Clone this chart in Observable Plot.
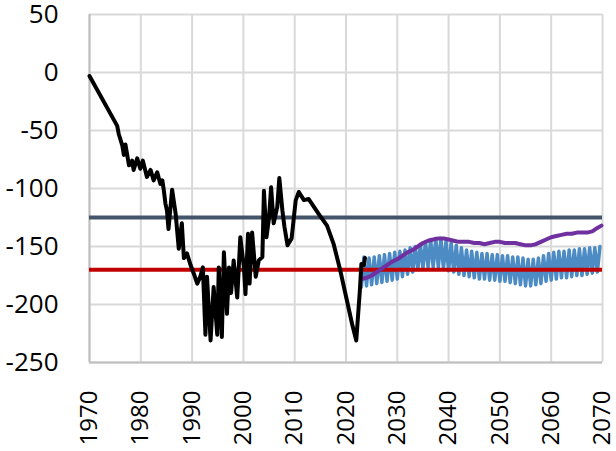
<!DOCTYPE html>
<html>
<head>
<meta charset="utf-8">
<script src="https://cdn.jsdelivr.net/npm/d3@7"></script>
<script src="https://cdn.jsdelivr.net/npm/@observablehq/plot@0.6"></script>
<style>
  body { margin: 0; background: #fff; }
  #chart svg { display: block; }
</style>
</head>
<body>
<div id="chart"></div>
<script>
// Historical series (black)
const histYears = [1970, 1975.4, 1975.7, 1976.4, 1976.7, 1977.0, 1977.7, 1978.3, 1978.6, 1979.3, 1979.9, 1980.4, 1981.2, 1981.9, 1982.5, 1983.2, 1983.8, 1984.2, 1984.5, 1984.8, 1985.1, 1985.4, 1986.1, 1986.8, 1987.4, 1988.0, 1988.4, 1989.0, 1989.7, 1990.3, 1991.0, 1991.6, 1992.1, 1992.6, 1992.9, 1993.6, 1994.2, 1994.9, 1995.2, 1995.8, 1996.2, 1996.8, 1997.2, 1997.6, 1998.1, 1998.8, 1999.4, 2000.1, 2000.4, 2000.9, 2001.2, 2001.7, 2002.4, 2003.0, 2003.7, 2004.0, 2004.5, 2005.0, 2005.4, 2005.9, 2006.6, 2007.0, 2007.6, 2008.0, 2008.6, 2009.4, 2010.2, 2010.8, 2011.8, 2012.7, 2014.7, 2016.3, 2017.6, 2018.9, 2020.2, 2021.2, 2022.0, 2022.7, 2023.0];
const histValues = [-3, -46, -53, -63, -71, -62, -80, -76, -84, -74, -83, -76, -90, -84, -93, -86, -96, -93, -102, -113, -119, -135, -101, -122, -152, -130, -160, -156, -166, -173, -182, -176, -168, -226, -176, -231, -185, -226, -168, -228, -155, -208, -168, -190, -162, -194, -142, -168, -191, -139, -182, -138, -176, -162, -159, -102, -142, -125, -99, -130, -116, -91, -119, -133, -149, -143, -110, -103, -110, -109, -122, -132, -148, -171, -197, -217, -231, -188, -165];
// Short separate black segment
const stubYears = [2023.5, 2023.7];
const stubValues = [-166, -160];

// Projection band (blue, oscillating): yearly trough and peak
const bandYears = [2023, 2024, 2025, 2026, 2027, 2028, 2029, 2030, 2031, 2032, 2033, 2034, 2035, 2036, 2037, 2038, 2039, 2040, 2041, 2042, 2043, 2044, 2045, 2046, 2047, 2048, 2049, 2050, 2051, 2052, 2053, 2054, 2055, 2056, 2057, 2058, 2059, 2060, 2061, 2062, 2063, 2064, 2065, 2066, 2067, 2068, 2069];
const bandUpper = [-159, -160, -159, -158, -157, -156, -155, -154, -153, -151, -150, -148, -146, -144, -143, -143, -145, -147, -149, -151, -153, -154, -155, -156, -156, -157, -157, -158, -158, -159, -159, -160, -161, -161, -160, -158, -156, -155, -154, -154, -153, -153, -152, -152, -151, -151, -150];
const bandLower = [-185, -184, -183, -182, -181, -180, -179, -178, -176, -174, -172, -170, -169, -168, -168, -168, -169, -171, -172, -174, -175, -176, -177, -178, -178, -179, -179, -180, -180, -181, -182, -183, -184, -184, -183, -182, -180, -179, -178, -177, -177, -176, -175, -175, -174, -173, -172];

// Purple projection
const purpleYears = [2023, 2024, 2025, 2026, 2027, 2028, 2029, 2030, 2031, 2032, 2033, 2034, 2035, 2036, 2037, 2038, 2039, 2040, 2041, 2042, 2043, 2044, 2045, 2046, 2047, 2048, 2049, 2050, 2051, 2052, 2053, 2054, 2055, 2056, 2057, 2058, 2059, 2060, 2061, 2062, 2063, 2064, 2065, 2066, 2067, 2068, 2069, 2069.8];
const purpleValues = [-178, -177, -175, -172, -169, -166, -163, -161, -158, -155, -153, -150, -147, -145, -144, -143, -143, -144, -145, -146, -146, -146, -147, -147, -148, -147, -146, -146, -147, -147, -147, -148, -149, -149, -148, -146, -144, -142, -141, -140, -139, -139, -138, -138, -138, -137, -134, -132];

// Reference levels
const refLevels = [-125, -170];
const refColors = ["#44546A", "#C00000"];

const xTicks = [1970, 1980, 1990, 2000, 2010, 2020, 2030, 2040, 2050, 2060, 2070];
const yTicks = [-250, -200, -150, -100, -50, 0, 50];

const hist = histYears.map((x, i) => ({x, y: histValues[i]}));
const stub = stubYears.map((x, i) => ({x, y: stubValues[i]}));
const band = bandYears.flatMap((x, i) => [
  {x, y: bandLower[i]},
  {x: x + 0.5, y: bandUpper[i]}
]);
const purple = purpleYears.map((x, i) => ({x, y: purpleValues[i]}));
const refs = refLevels.map((y, i) => ({y, c: refColors[i]}));

const FONT = "Open Sans, Liberation Sans, sans-serif";

const chart = Plot.plot({
  width: 616,
  height: 451,
  marginLeft: 89,
  marginRight: 14,
  marginTop: 14,
  marginBottom: 89,
  style: {fontFamily: FONT, background: "#fff", color: "#000"},
  x: {domain: [1970, 2070], ticks: xTicks, label: null},
  y: {domain: [-250, 50], ticks: yTicks, label: null},
  marks: [
    Plot.gridX(xTicks, {stroke: "#D9D9D9", strokeOpacity: 1, strokeWidth: 2}),
    Plot.gridY(yTicks, {stroke: "#D9D9D9", strokeOpacity: 1, strokeWidth: 2}),
    Plot.ruleX([1970], {stroke: "#BFBFBF", strokeWidth: 2}),
    Plot.ruleY([-250], {stroke: "#BFBFBF", strokeWidth: 2}),
    Plot.line(band, {x: "x", y: "y", stroke: "#4C8BC4", strokeWidth: 3.5}),
    Plot.ruleY(refs, {y: "y", stroke: "c", strokeWidth: 4}),
    Plot.line(purple, {x: "x", y: "y", stroke: "#7030A0", strokeWidth: 4, strokeLinejoin: "round"}),
    Plot.line(hist, {x: "x", y: "y", stroke: "#000", strokeWidth: 4, strokeLinejoin: "round"}),
    Plot.line(stub, {x: "x", y: "y", stroke: "#000", strokeWidth: 4}),
    Plot.axisY(yTicks, {label: null, tickSize: 0, tickPadding: 31, fontSize: 26, tickFormat: d => String(d), fill: "#000"}),
    Plot.axisX(xTicks, {label: null, tickSize: 0, tickPadding: 28, tickRotate: -90, fontSize: 24, tickFormat: d => String(d), fill: "#000"})
  ]
});
document.getElementById("chart").append(chart);
</script>
</body>
</html>
